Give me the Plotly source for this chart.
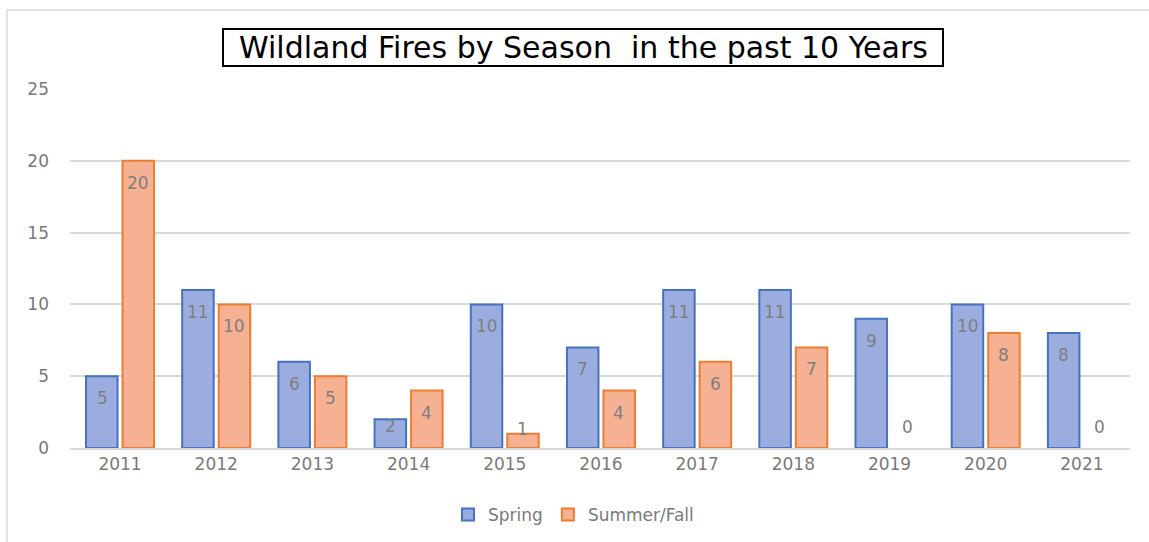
import plotly.graph_objects as go

years = ["2011", "2012", "2013", "2014", "2015", "2016", "2017", "2018", "2019", "2020", "2021"]
spring = [5, 11, 6, 2, 10, 7, 11, 11, 9, 10, 8]
summer_fall = [20, 10, 5, 4, 1, 4, 6, 7, 0, 8, 0]
y_ticks = [0, 5, 10, 15, 20, 25]

W, H = 1149, 542
L, R, T, B = 70, 19, 89, 94
pw, ph = W - L - R, H - T - B
Y_MAX = 25

def px_x(x):
    return (x - L) / pw

def px_y(y):
    return (H - B - y) / ph

FONT = "DejaVu Sans"
GRAY = "#7f7f7f"
TICK = "#7a7a7a"

def edge_widths(vals):
    return [0 if v == 0 else 2 for v in vals]

fig = go.Figure()
fig.add_trace(go.Bar(
    x=years, y=spring, name="Spring",
    marker=dict(color="#9badde", line=dict(color="#4472c4", width=edge_widths(spring))),
    textposition="none", hoverinfo="skip",
))
fig.add_trace(go.Bar(
    x=years, y=summer_fall, name="Summer/Fall",
    marker=dict(color="#f6b092", line=dict(color="#ed7d31", width=edge_widths(summer_fall))),
    textposition="none", hoverinfo="skip",
))

def label_shift(v):
    h = v * ph / Y_MAX
    if v == 0:
        return 21
    if h < 20:
        return 5
    if h < 36:
        return -7
    return -22

annotations = []
for vals, dx in ((spring, -18), (summer_fall, 18)):
    for i, v in enumerate(vals):
        annotations.append(dict(
            x=i, y=v, xref="x", yref="y", text=str(v), showarrow=False,
            xshift=dx, yshift=label_shift(v), xanchor="center", yanchor="middle",
            font=dict(size=17, color=GRAY, family=FONT),
        ))

annotations.append(dict(
    text="Wildland Fires by Season  in the past 10 Years",
    xref="paper", yref="paper", x=px_x(583), y=px_y(47.5),
    xanchor="center", yanchor="middle", showarrow=False,
    font=dict(size=30, color="black", family=FONT),
))

fig.update_layout(
    width=W, height=H,
    margin=dict(l=L, r=R, t=T, b=B, autoexpand=False),
    paper_bgcolor="white", plot_bgcolor="white",
    barmode="group", bargap=0.241, bargroupgap=0.137,
    font=dict(family=FONT, color=TICK, size=17),
    showlegend=True,
    legend=dict(orientation="h", x=px_x(448), xanchor="left",
                y=px_y(515), yanchor="middle",
                font=dict(size=17, color=TICK, family=FONT), itemwidth=30,
                traceorder="normal"),
    xaxis=dict(type="category", categoryorder="array", categoryarray=years,
               range=[-0.52, len(years) - 0.5],
               showgrid=False, showline=True, linecolor="#d9d9d9",
               linewidth=1.5, ticks="", tickfont=dict(size=17, color=TICK)),
    yaxis=dict(range=[0, Y_MAX], tickvals=y_ticks, showgrid=True, gridcolor="#d9d9d9",
               gridwidth=1.5, zeroline=False, showline=False, ticks="",
               tickfont=dict(size=17, color=TICK), ticklabelstandoff=20),
    shapes=[
        dict(type="rect", xref="paper", yref="paper",
             x0=px_x(7), x1=px_x(1160), y0=px_y(10), y1=px_y(560),
             line=dict(color="#d9d9d9", width=1.5), fillcolor="rgba(0,0,0,0)",
             layer="below"),
        dict(type="rect", xref="paper", yref="paper",
             x0=px_x(223), x1=px_x(943), y0=px_y(29), y1=px_y(66),
             line=dict(color="black", width=2), fillcolor="white", layer="above"),
    ],
    annotations=annotations,
)

fig.write_html("out.html", config={"displayModeBar": False},
               post_script="document.body.style.margin='0px';")
